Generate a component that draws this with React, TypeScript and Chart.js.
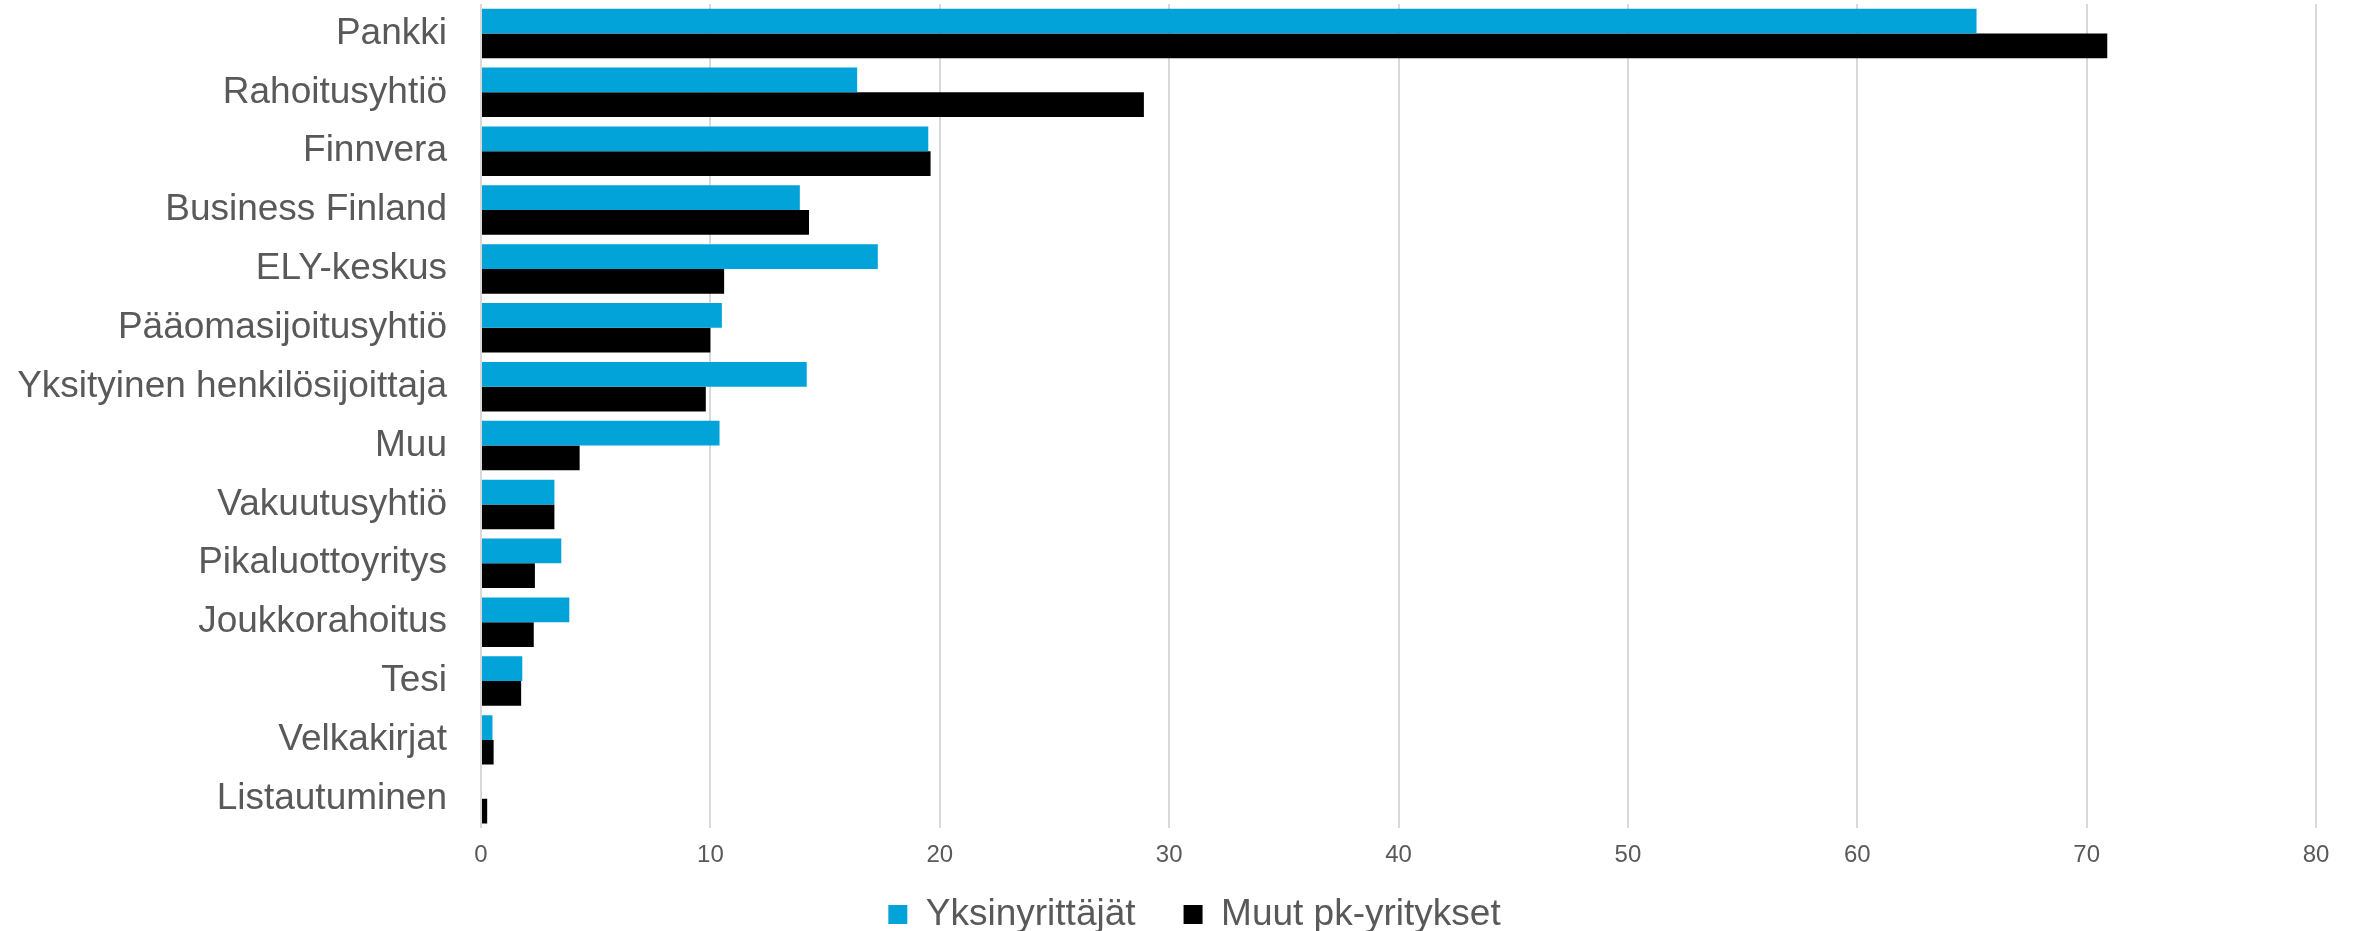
import React, { useEffect, useRef } from "react";
import { Chart, registerables } from "chart.js";

Chart.register(...registerables);

const categories = [
  "Pankki",
  "Rahoitusyhtiö",
  "Finnvera",
  "Business Finland",
  "ELY-keskus",
  "Pääomasijoitusyhtiö",
  "Yksityinen henkilösijoittaja",
  "Muu",
  "Vakuutusyhtiö",
  "Pikaluottoyritys",
  "Joukkorahoitus",
  "Tesi",
  "Velkakirjat",
  "Listautuminen",
];

const yksinyrittajat = [65.2, 16.4, 19.5, 13.9, 17.3, 10.5, 14.2, 10.4, 3.2, 3.5, 3.85, 1.8, 0.5, 0];
const muutPk = [70.9, 28.9, 19.6, 14.3, 10.6, 10.0, 9.8, 4.3, 3.2, 2.35, 2.3, 1.75, 0.55, 0.27];

const seriesNames = ["Yksinyrittäjät", "Muut pk-yritykset"];
const seriesColors = ["#02A3D9", "#000000"];

const xMin = 0;
const xMax = 80;
const xStep = 10;

const legendShift = {
  id: "legendShift",
  afterLayout(chart: any) {
    const lg = chart.legend;
    if (lg) {
      lg.top -= 35;
      lg.bottom -= 35;
      lg.left += 29;
      lg.right += 29;
    }
  },
};

export default function App() {
  const canvasRef = useRef<HTMLCanvasElement | null>(null);

  useEffect(() => {
    if (!canvasRef.current) return;
    const font = "'Liberation Sans', Arial, sans-serif";
    const chart = new Chart(canvasRef.current, {
      type: "bar",
      data: {
        labels: categories,
        datasets: [
          {
            label: seriesNames[0],
            data: yksinyrittajat,
            backgroundColor: seriesColors[0],
            categoryPercentage: 0.84,
            barPercentage: 1,
          },
          {
            label: seriesNames[1],
            data: muutPk,
            backgroundColor: seriesColors[1],
            categoryPercentage: 0.84,
            barPercentage: 1,
          },
        ],
      },
      plugins: [legendShift],
      options: {
        indexAxis: "y",
        animation: false,
        responsive: true,
        maintainAspectRatio: false,
        layout: { padding: { left: 15, right: 42, top: 4, bottom: -47 } },
        scales: {
          x: {
            min: xMin,
            max: xMax,
            ticks: {
              stepSize: xStep,
              color: "#595959",
              font: { family: font, size: 24 },
              padding: 13,
            },
            grid: { color: "#D9D9D9", lineWidth: 2, drawTicks: false },
            border: { display: false },
          },
          y: {
            ticks: {
              color: "#595959",
              font: { family: font, size: 37, lineHeight: 0.2 },
              padding: 0,
            },
            grid: { display: false, drawTicks: true, tickLength: 34 },
            border: { display: false },
            afterFit: (s: any) => {
              s.width = 466;
            },
          },
        },
        plugins: {
          legend: {
            position: "bottom",
            labels: {
              color: "#595959",
              font: { family: font, size: 37 },
              boxWidth: 19,
              boxHeight: 19,
              padding: 48,
            },
          },
          tooltip: { enabled: false },
        },
      },
    });
    return () => chart.destroy();
  }, []);

  return (
    <div style={{ position: "fixed", left: 0, top: 0, width: 2358, height: 931, background: "#fff" }}>
      <canvas ref={canvasRef} />
    </div>
  );
}
